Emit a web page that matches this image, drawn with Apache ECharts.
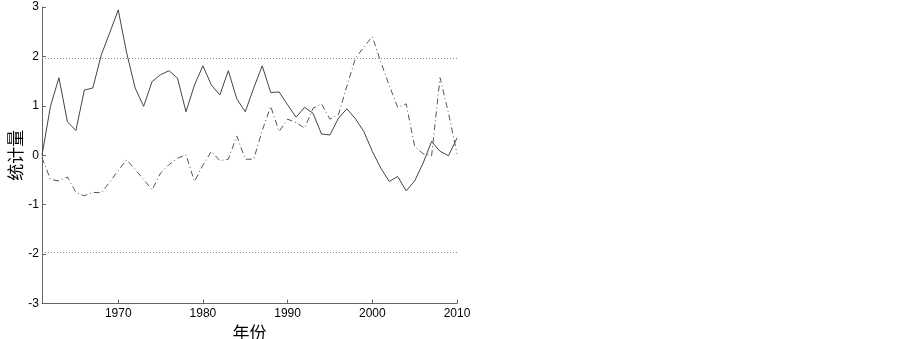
<!DOCTYPE html>
<html>
<head>
<meta charset="utf-8">
<script src="https://cdn.jsdelivr.net/npm/echarts@6/dist/echarts.min.js"></script>
<style>html,body{margin:0;padding:0;background:#fff}#c{width:903px;height:339px}</style>
</head>
<body>
<div id="c"></div>
<script>
const years = [];
for (let y = 1961; y <= 2010; y++) years.push(y);
const uf = [0, 0.99, 1.57, 0.68, 0.50, 1.32, 1.36, 2.03, 2.48, 2.94,
  2.07, 1.36, 0.99, 1.49, 1.63, 1.71, 1.56, 0.88, 1.42, 1.81,
  1.42, 1.22, 1.71, 1.14, 0.88, 1.36, 1.81, 1.27, 1.28, 1.02,
  0.77, 0.97, 0.85, 0.43, 0.41, 0.75, 0.94, 0.74, 0.48, 0.08,
  -0.26, -0.53, -0.43, -0.72, -0.52, -0.16, 0.28, 0.08, -0.01, 0.35];
const ub = [-0.05, -0.49, -0.52, -0.44, -0.75, -0.82, -0.75, -0.76, -0.54, -0.31,
  -0.09, -0.29, -0.49, -0.70, -0.36, -0.19, -0.06, 0.01, -0.53, -0.20,
  0.08, -0.11, -0.08, 0.39, -0.08, -0.08, 0.50, 0.99, 0.48, 0.73,
  0.66, 0.55, 0.95, 1.04, 0.73, 0.82, 1.40, 1.96, 2.19, 2.40,
  1.89, 1.41, 0.97, 1.04, 0.18, 0.03, -0.01, 1.57, 0.85, 0.03];
const xTicks = [1970, 1980, 1990, 2000, 2010];
const yTicks = [-3, -2, -1, 0, 1, 2, 3];
const critical = [1.96, -1.96];

const chart = echarts.init(document.getElementById('c'));
const font = 'Liberation Sans, Arial, sans-serif';
chart.setOption({
  animation: false,
  grid: { left: 42, right: 446, top: 7, bottom: 35.5, containLabel: false, outerBoundsMode: 'none' },
  xAxis: {
    type: 'value', min: 1961, max: 2010,
    name: '年份', nameLocation: 'middle', nameGap: 18,
    nameTextStyle: { fontSize: 17, color: '#000', fontFamily: 'Noto Sans CJK SC' },
    axisLine: { show: true, onZero: false, lineStyle: { color: '#666', width: 1 } },
    axisTick: { show: true, inside: true, length: 4, customValues: xTicks, lineStyle: { color: '#666' } },
    axisLabel: { customValues: xTicks, formatter: v => String(v), fontSize: 12, color: '#000', fontFamily: font, margin: 4 },
    splitLine: { show: false }
  },
  yAxis: {
    type: 'value', min: -3, max: 3, interval: 1,
    name: '统计量', nameLocation: 'middle', nameGap: 17, nameRotate: 90,
    nameTextStyle: { fontSize: 17, color: '#000', fontFamily: 'Noto Sans CJK SC' },
    axisLine: { show: true, onZero: false, lineStyle: { color: '#666', width: 1 } },
    axisTick: { show: true, inside: true, length: 4, customValues: yTicks, lineStyle: { color: '#666' } },
    axisLabel: { customValues: yTicks, formatter: v => String(v), fontSize: 12, color: '#000', fontFamily: font, margin: 3 },
    splitLine: { show: false }
  },
  series: [
    {
      type: 'line', data: years.map((y, i) => [y, uf[i]]),
      showSymbol: false, symbol: 'none',
      lineStyle: { color: '#444', width: 1 },
      markLine: {
        silent: true, symbol: 'none', label: { show: false },
        lineStyle: { color: '#888', type: [1, 2], width: 1 },
        data: critical.map(v => ({ yAxis: v }))
      }
    },
    {
      type: 'line', data: years.map((y, i) => [y, ub[i]]),
      showSymbol: false, symbol: 'none',
      lineStyle: { color: '#555', width: 1, type: [6, 3, 1, 3] }
    }
  ]
});
</script>
</body>
</html>
